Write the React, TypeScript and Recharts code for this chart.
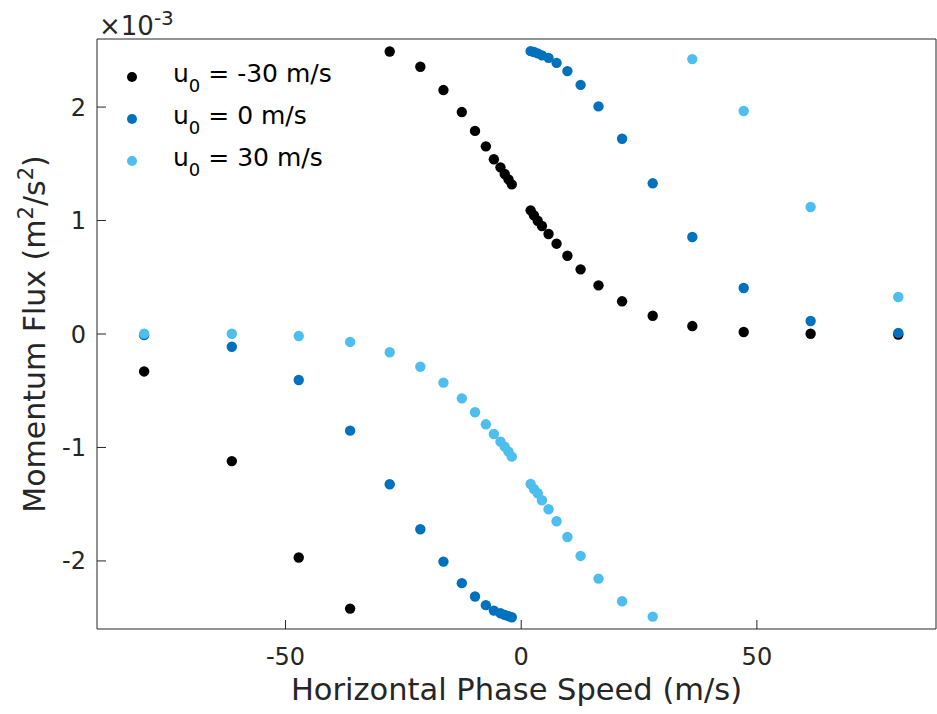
import React from "react";
import {
  ScatterChart,
  Scatter,
  XAxis,
  YAxis,
  Label,
  Legend,
} from "recharts";

// horizontal phase speed (m/s), same grid for every run
const phaseSpeed = [
  -80, -61.4, -47.2, -36.3, -27.9, -21.4, -16.5, -12.6, -9.8, -7.5, -5.8, -4.4, -3.5, -2.7, -2.0,
  2.0, 2.7, 3.5, 4.4, 5.8, 7.5, 9.8, 12.6, 16.4, 21.4, 27.9, 36.3, 47.2, 61.4, 80,
];

// momentum flux in units of 1e-3 m^2/s^2
const fluxMinus30 = [
  -0.33, -1.12, -1.97, -2.42, 2.49, 2.355, 2.15, 1.956, 1.79, 1.654, 1.54, 1.469, 1.41, 1.363, 1.319,
  1.09, 1.046, 0.998, 0.952, 0.881, 0.796, 0.69, 0.57, 0.429, 0.288, 0.161, 0.07, 0.018, 0.002, -0.005,
];
const fluxZero = [
  -0.01, -0.112, -0.405, -0.852, -1.324, -1.721, -2.006, -2.196, -2.314, -2.39, -2.438, -2.461, -2.476, -2.487, -2.496,
  2.493, 2.485, 2.473, 2.456, 2.434, 2.39, 2.317, 2.196, 2.006, 1.721, 1.328, 0.855, 0.405, 0.115, 0.01,
];
const fluxPlus30 = [
  0.003, 0.002, -0.018, -0.07, -0.161, -0.288, -0.429, -0.567, -0.69, -0.796, -0.881, -0.949, -0.993, -1.037, -1.081,
  -1.322, -1.366, -1.404, -1.465, -1.545, -1.65, -1.789, -1.956, -2.156, -2.355, -2.491, 2.423, 1.965, 1.119, 0.326,
];

const xTicks = [-50, 0, 50];
const yTicks = [-2, -1, 0, 1, 2];

const series = [
  { label: "-30 m/s", color: "#000000", flux: fluxMinus30 },
  { label: "0 m/s", color: "#0072BD", flux: fluxZero },
  { label: "30 m/s", color: "#4DBEEE", flux: fluxPlus30 },
];

const FONT = "DejaVu Sans";
const AXIS = "#262626";
const X_DOMAIN = [-90, 88];
const Y_DOMAIN = [-2.6, 2.6];

function Dot(props: any) {
  const { cx, cy, fill } = props;
  if (cx == null || cy == null) return null;
  return <circle cx={cx} cy={cy} r={5.2} fill={fill} />;
}

function LegendBox() {
  return (
    <svg width={260} height={130} style={{ display: "block" }}>
      {series.map((s, i) => {
        const cy = 22 + i * 42;
        return (
          <g key={s.label}>
            <circle cx={22} cy={cy} r={5} fill={s.color} />
            <text x={63} y={cy + 4.5} fontFamily={FONT} fontSize={25} fill="#000">
              u
              <tspan dy={10} fontSize={18}>0</tspan>
              <tspan dy={-10}>{" = " + s.label}</tspan>
            </text>
          </g>
        );
      })}
    </svg>
  );
}

// y label with raised squares, like the TeX interpreter draws them
function YTitle(props: any) {
  const vb = props.viewBox || {};
  const cx = 45;
  const cy = (vb.y ?? 39) + (vb.height ?? 590) / 2;
  return (
    <text
      x={cx}
      y={cy}
      transform={`rotate(-90, ${cx}, ${cy})`}
      textAnchor="middle"
      fontFamily={FONT}
      fontSize={30}
      fill={AXIS}
    >
      Momentum Flux (m
      <tspan dy={-12} fontSize={21}>2</tspan>
      <tspan dy={12}>/s</tspan>
      <tspan dy={-12} fontSize={21}>2</tspan>
      <tspan dy={12}>)</tspan>
    </text>
  );
}

export default function App() {
  return (
    <div style={{ position: "absolute", left: 0, top: 0, width: 937, height: 714, background: "#fff" }}>
      <ScatterChart width={937} height={714} margin={{ top: 38, right: 0, bottom: 25, left: 37 }}>
        <XAxis
          type="number"
          dataKey="x"
          domain={X_DOMAIN}
          ticks={xTicks}
          allowDataOverflow
          height={60}
          stroke={AXIS}
          tickSize={-9}
          tickMargin={28}
          tick={{ fill: AXIS, fontSize: 24, fontFamily: FONT }}
        >
          <Label
            value="Horizontal Phase Speed (m/s)"
            position="bottom"
            offset={-11}
            style={{ fill: AXIS, fontSize: 30.5, fontFamily: FONT }}
          />
        </XAxis>
        <XAxis
          xAxisId="top"
          orientation="top"
          type="number"
          domain={X_DOMAIN}
          ticks={xTicks}
          allowDataOverflow
          height={1}
          stroke={AXIS}
          tickSize={-9}
          tick={false}
        />
        <YAxis
          type="number"
          dataKey="y"
          domain={Y_DOMAIN}
          ticks={yTicks}
          allowDataOverflow
          width={60}
          stroke={AXIS}
          tickSize={-9}
          tickMargin={20}
          tick={{ fill: AXIS, fontSize: 24, fontFamily: FONT }}
        >
          <Label content={<YTitle />} />
        </YAxis>
        <YAxis
          yAxisId="right"
          orientation="right"
          type="number"
          domain={Y_DOMAIN}
          ticks={yTicks}
          allowDataOverflow
          width={1}
          stroke={AXIS}
          tickSize={-9}
          tick={false}
        />
        {series.map((s) => (
          <Scatter
            key={s.label}
            name={"u0 = " + s.label}
            data={phaseSpeed.map((x, i) => ({ x, y: s.flux[i] }))}
            fill={s.color}
            shape={<Dot />}
            isAnimationActive={false}
          />
        ))}
        <Legend
          content={() => <LegendBox />}
          wrapperStyle={{ position: "absolute", left: 110, top: 55, width: 260 }}
          layout="horizontal"
          verticalAlign="middle"
          align="center"
        />
      </ScatterChart>
      <div
        style={{
          position: "absolute",
          left: 99,
          top: 3,
          fontFamily: FONT,
          fontSize: 26,
          color: AXIS,
          lineHeight: "30px",
          whiteSpace: "nowrap",
        }}
      >
        ×10<sup style={{ fontSize: 20, verticalAlign: "10px" }}>-3</sup>
      </div>
    </div>
  );
}
